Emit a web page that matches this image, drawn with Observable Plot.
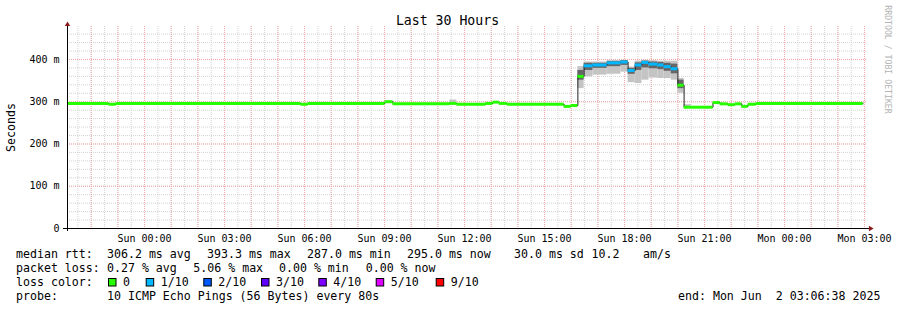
<!DOCTYPE html>
<html><head><meta charset="utf-8">
<script src="https://cdn.jsdelivr.net/npm/d3@7"></script>
<script src="https://cdn.jsdelivr.net/npm/@observablehq/plot@0.6"></script>
<style>
html,body{margin:0;padding:0;background:#fff;}
#chart{width:897px;height:310px;position:relative;overflow:hidden;background:#fff}
</style></head><body><div id="chart"></div>
<script>
// ---- data ----
const startTime = "2025-05-31T21:06:38Z";
const endTime = "2025-06-02T03:06:38Z";
const stepStarts = [
  "2025-05-31T21:08Z","2025-05-31T22:40Z","2025-05-31T22:56Z",
  "2025-06-01T05:52Z","2025-06-01T06:08Z","2025-06-01T09:01Z","2025-06-01T09:19Z",
  "2025-06-01T11:27Z","2025-06-01T11:43Z","2025-06-01T12:48Z","2025-06-01T13:04Z",
  "2025-06-01T13:18Z","2025-06-01T13:36Z","2025-06-01T15:44Z","2025-06-01T16:00Z",
  "2025-06-01T16:15Z","2025-06-01T16:29Z","2025-06-01T16:49Z","2025-06-01T17:21Z",
  "2025-06-01T17:52Z","2025-06-01T18:08Z","2025-06-01T18:24Z","2025-06-01T18:39Z",
  "2025-06-01T18:55Z","2025-06-01T19:15Z","2025-06-01T19:29Z","2025-06-01T19:45Z",
  "2025-06-01T20:00Z","2025-06-01T20:14Z","2025-06-01T20:30Z","2025-06-01T21:19Z",
  "2025-06-01T21:35Z","2025-06-01T21:53Z","2025-06-01T22:09Z","2025-06-01T22:24Z",
  "2025-06-01T22:38Z","2025-06-01T22:56Z"
];
const stepEnd = "2025-06-02T02:57Z";
const medians = [
  296, 294, 296,
  294, 296, 300, 295,
  296, 294, 296, 299,
  296, 294, 289, 291,
  360, 385, 387, 392,
  394, 374, 387, 393,
  389, 387, 383, 378,
  339, 287, 287, 298,
  295, 293, 295, 289,
  294, 296
];
const lossIndex = [
  0,0,0, 0,0,0,0, 0,0,0,0, 0,0,0,0,
  0,1,1,1, 1,1,1,1, 1,1,1,1,
  0,0,0,0, 0,0,0,0, 0,0
];
const smokeOuterLo = [
  null,null,null, null,null,null,null, 294,null,null,null, null,null,null,null,
  331,359,363,365, 370,345,343,351, 356,355,355,351,
  320,287,null,null, null,null,null,null, null,null
];
const smokeOuterHi = [
  null,null,null, null,null,null,null, 304,null,null,null, null,null,null,null,
  383,394,394,398, 398,382,396,398, 397,396,396,396,
  355,293,null,null, null,null,null,null, null,null
];
const smokeInnerLo = [
  null,null,null, null,null,null,null, null,null,null,null, null,null,null,null,
  351,374,379,383, 386,365,374,380, 378,376,372,366,
  331,null,null,null, null,null,null,null, null,null
];
const smokeInnerHi = [
  null,null,null, null,null,null,null, null,null,null,null, null,null,null,null,
  374,391,391,395, 397,379,392,396, 394,393,391,389,
  351,null,null,null, null,null,null,null, null,null
];
const yTicks = [0, 100, 200, 300, 400];
const yTickLabels = ["0", "100 m", "200 m", "300 m", "400 m"];
const xTicks = ["2025-06-01T00:00Z","2025-06-01T03:00Z","2025-06-01T06:00Z","2025-06-01T09:00Z",
  "2025-06-01T12:00Z","2025-06-01T15:00Z","2025-06-01T18:00Z","2025-06-01T21:00Z",
  "2025-06-02T00:00Z","2025-06-02T03:00Z"];
const xTickLabels = ["Sun 00:00","Sun 03:00","Sun 06:00","Sun 09:00","Sun 12:00","Sun 15:00",
  "Sun 18:00","Sun 21:00","Mon 00:00","Mon 03:00"];
const lossLevels = ["0","1/10","2/10","3/10","4/10","5/10","9/10"];
const lossColors = ["#26ff00","#00b8ff","#0059ff","#5e00ff","#7e00ff","#dd00ff","#ff0000"];
const rttStats = ["306.2 ms avg","393.3 ms max","287.0 ms min","295.0 ms now","30.0 ms sd","10.2","am/s"];
const lossStats = ["0.27 % avg","5.06 % max","0.00 % min","0.00 % now"];
const probeText = "10 ICMP Echo Pings (56 Bytes) every 80s";
const endText = "end: Mon Jun  2 03:06:38 2025";
const titleText = "Last 30 Hours";
const yLabel = "Seconds";
const watermark = "RRDTOOL / TOBI OETIKER";

// ---- build ----
const parse = d3.isoParse;
const t0 = parse(startTime), t1 = parse(endTime);
const steps = stepStarts.map((s, i) => ({
  start: parse(s),
  end: parse(i + 1 < stepStarts.length ? stepStarts[i + 1] : stepEnd),
  median: medians[i],
  color: lossColors[lossIndex[i]],
  oLo: smokeOuterLo[i], oHi: smokeOuterHi[i],
  iLo: smokeInnerLo[i], iHi: smokeInnerHi[i]
}));
const linePts = steps.map(d => ({t: d.start, v: d.median}))
  .concat([{t: parse(stepEnd), v: medians[medians.length - 1]}]);
const yMinor = d3.range(20, 480, 20);
const yMajor = yTicks.filter(v => v > 0);
const xMinor = d3.utcMinute.every(30).range(t0, t1);
const xMajor = d3.utcHour.range(t0, t1);
const xTickDates = xTicks.map(parse);
const xLabelMap = new Map(xTickDates.map((d, i) => [+d, xTickLabels[i]]));
const yLabelMap = new Map(yTicks.map((v, i) => [v, yTickLabels[i]]));
const MONO = "'DejaVu Sans Mono', monospace";
const arrowColor = "#8b1a1a";

const svg = Plot.plot({
  width: 897, height: 310,
  marginLeft: 67, marginRight: 30, marginTop: 26, marginBottom: 82,
  style: {fontFamily: MONO, fontSize: "10px", color: "#000", background: "#fff", overflow: "visible"},
  x: {type: "utc", domain: [t0, t1]},
  y: {domain: [0, 478]},
  color: {type: "identity"},
  marks: [
    Plot.ruleY(yMinor, {stroke: "#d2d2d2", strokeDasharray: "1,1"}),
    Plot.ruleX(xMinor, {stroke: "#d2d2d2", strokeDasharray: "1,1"}),
    Plot.ruleY(yMajor, {stroke: "#f4a6a6", strokeDasharray: "1,1"}),
    Plot.ruleX(xMajor, {stroke: "#f4a6a6", strokeDasharray: "1,1"}),
    Plot.rect(steps.filter(d => d.oLo != null), {x1: "start", x2: "end", y1: "oLo", y2: "oHi", fill: "#c4c4c4"}),
    Plot.rect(steps.filter(d => d.iLo != null), {x1: "start", x2: "end", y1: "iLo", y2: "iHi", fill: "#666666"}),
    Plot.line(linePts, {x: "t", y: "v", curve: "step-after", stroke: "#202020", strokeWidth: 1}),
    Plot.ruleY(steps, {y: "median", x1: "start", x2: "end", stroke: "color", strokeWidth: 3}),
    Plot.ruleY([0], {stroke: "#000", insetLeft: -4, insetRight: -2}),
    Plot.ruleX([t0], {stroke: "#000", insetTop: -3, insetBottom: -3}),
    Plot.dot([0], {frameAnchor: "top-left", symbol: "triangle", r: 2, fill: arrowColor, dy: -2}),
    Plot.dot([0], {frameAnchor: "bottom-right", symbol: "triangle", r: 2, fill: arrowColor, rotate: 90, dx: 3}),
    Plot.axisX({ticks: xTickDates, tickFormat: d => xLabelMap.get(+d), tickSize: 0, tickPadding: 6, fontSize: 10, label: null}),
    Plot.axisY({ticks: yTicks, tickFormat: d => yLabelMap.get(d), tickSize: 0, tickPadding: 8, fontSize: 10, label: null})
  ]
});
document.getElementById("chart").appendChild(svg);

// ---- texts ----
const s = d3.select(svg);
const g = s.append("g").attr("font-family", MONO).attr("fill", "#000")
  .attr("text-anchor", "start").style("white-space", "pre");
g.append("text").attr("x", 447.5).attr("y", 24.5).attr("text-anchor", "middle").attr("font-size", "13.2px").text(titleText);
g.append("text").attr("transform", "translate(15.3,127.5) rotate(-90)").attr("text-anchor", "middle").attr("font-size", "11.6px").text(yLabel);
g.append("text").attr("transform", "translate(885,59.5) rotate(90)").attr("text-anchor", "middle").attr("font-size", "8.2px").attr("fill", "#b4b4b4").text(watermark);

const FS = "11.6px";
const line = (y, items) => items.forEach(([x, t]) =>
  g.append("text").attr("x", x).attr("y", y).attr("text-anchor", "start").attr("font-size", FS).text(t));
line(258.3, [[16, "median rtt:"], [107, rttStats[0]], [207, rttStats[1]], [307, rttStats[2]], [407, rttStats[3]], [514, rttStats[4]], [591.5, rttStats[5]], [643, rttStats[6]]]);
line(272.3, [[16, "packet loss:"], [107, lossStats[0]], [193.3, lossStats[1]], [279, lossStats[2]], [365.7, lossStats[3]]]);
const boxX = [108, 145.7, 203.3, 261, 318.3, 375.7, 435.7];
line(286.3, [[16, "loss color:"]].concat(lossLevels.map((l, i) => [boxX[i] + 15, l])));
lossLevels.forEach((l, i) => {
  g.append("rect").attr("x", boxX[i] + 0.5).attr("y", 278.5).attr("width", 7.5).attr("height", 7.5)
    .attr("fill", lossColors[i]).attr("stroke", "#000").attr("stroke-width", 1);
});
line(300.3, [[16, "probe:"], [107, probeText], [678, endText]]);
</script></body></html>
